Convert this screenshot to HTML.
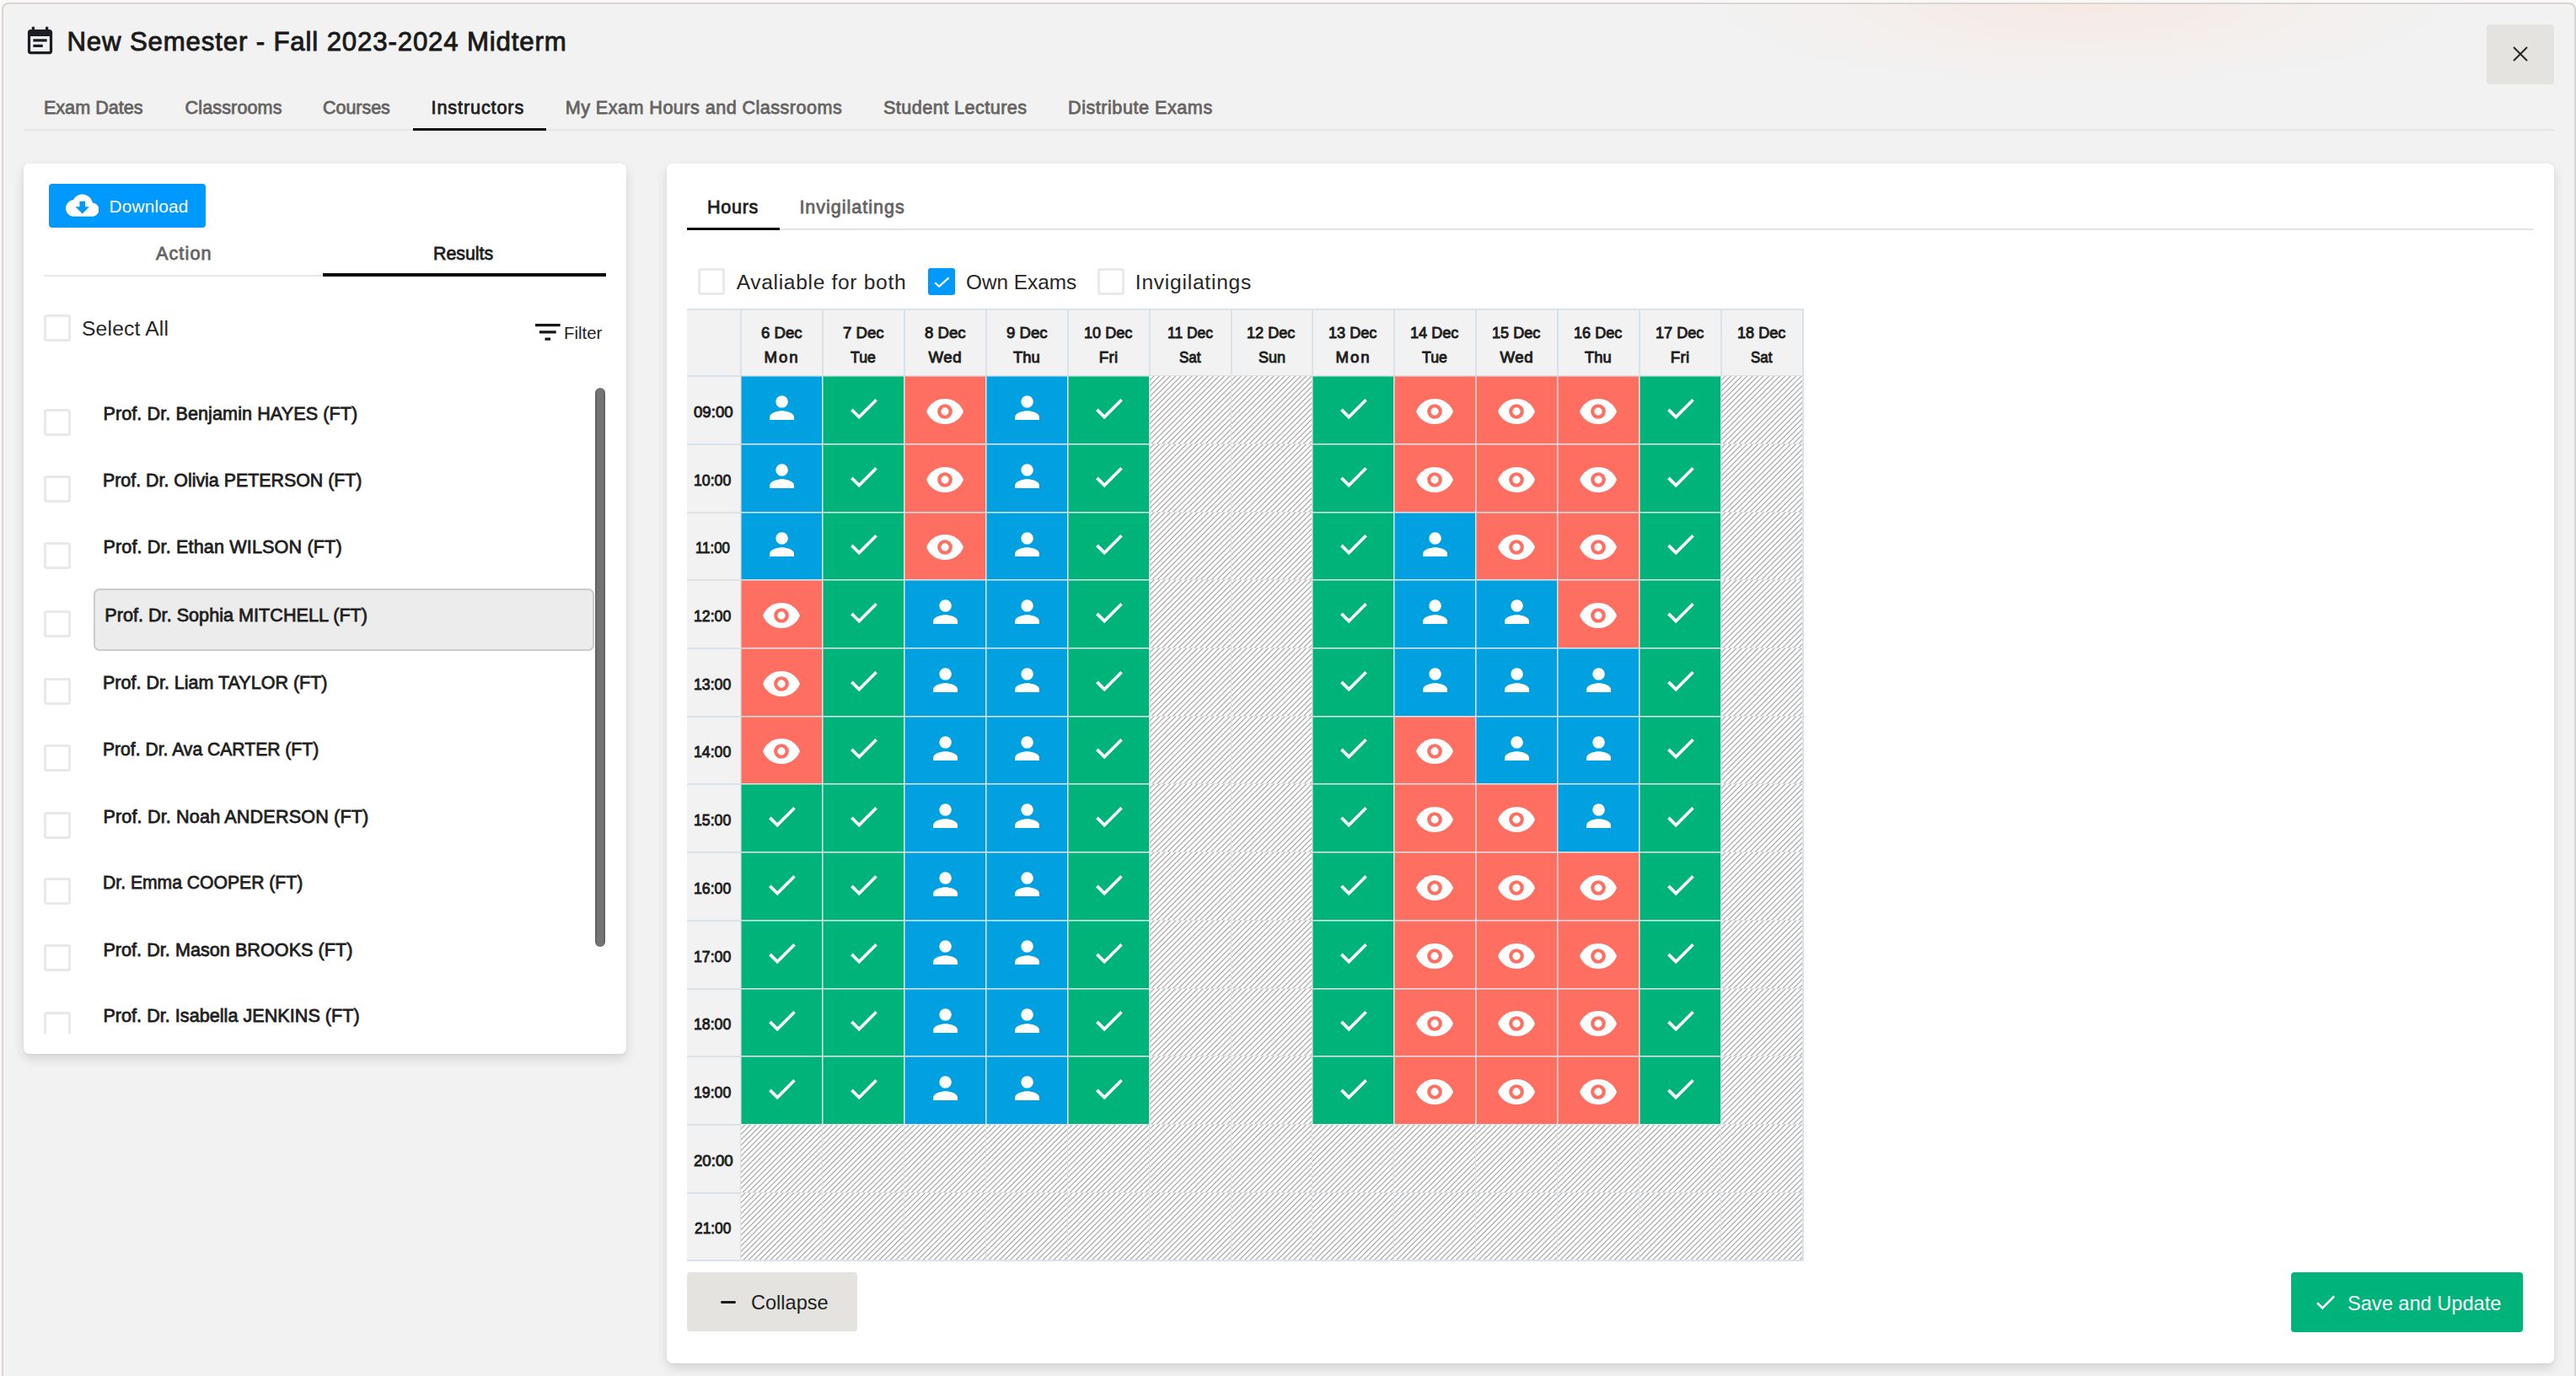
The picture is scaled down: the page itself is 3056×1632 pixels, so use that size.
<!DOCTYPE html>
<html lang="en"><head><meta charset="utf-8"><title>New Semester - Fall 2023-2024 Midterm</title>
<style>
html,body{margin:0;padding:0;overflow:hidden}
body{width:3056px;height:1632px;overflow:hidden;background:#f9f8f6;font-family:"Liberation Sans",sans-serif;position:relative}
.dlg{position:absolute;left:2px;top:3px;width:3054px;height:1700px;background:#f2f2f2;border:2px solid #d8d5d4;border-radius:8px;box-sizing:border-box}
.glow{position:absolute;left:2020px;top:5px;width:900px;height:100px;background:radial-gradient(ellipse 50% 100% at 50% 0,rgba(255,215,200,.34),rgba(255,215,200,.12) 55%,rgba(255,215,200,0) 100%)}
.t{position:absolute;white-space:nowrap;line-height:1;transform-origin:0 0}
.ic{position:absolute;display:block}
.panel{position:absolute;background:#fff;border-radius:7px;box-shadow:0 6px 14px rgba(0,0,0,.12),0 1px 3px rgba(0,0,0,.05)}
.hline{position:absolute;height:1.5px;background:#dde3e9}
.uline{position:absolute;height:3.5px;background:#0a0a0a}
.btn{position:absolute;border-radius:4px}
.closebtn{position:absolute;left:2949.5px;top:29px;width:80px;height:70.5px;background:#e5e3df;border-radius:4px}
.cb{position:absolute;width:32px;height:32px;box-sizing:border-box;border:3px solid #e9e9e9;border-radius:3px;background:#fff}
.cb.on{width:32px;height:32px;border:0;background:#0099ff;border-radius:3px}
.cb.on svg{display:block}
.listclip{position:absolute;left:0;top:0;width:760px;height:1226px;overflow:hidden}
.selbox{position:absolute;left:110.5px;top:698px;width:594px;height:74px;box-sizing:border-box;border:2px solid #cbcbcb;border-radius:7px;background:#ececec}
.sbar{position:absolute;left:705.7px;top:460px;width:12.4px;height:662.5px;border-radius:7px;background:linear-gradient(90deg,#5c5c5c,#747474 25%,#747474 75%,#5c5c5c)}
.tbl{position:absolute;background:#dbe3e9}
.c{position:absolute;overflow:hidden}
.c.h{background:#f2f2f2}
.c.p,.c.g,.c.e{box-shadow:inset 1px 1px 0 rgba(219,227,233,.55)}
.c.p{background:#00a0e1}
.c.g{background:#00b378}
.c.e{background:#ff6f61}
.c.x{background:#fff repeating-linear-gradient(135deg,#fff 0,#fff 2.45px,#b6b6b6 3.1px,#b6b6b6 3.9px,#fff 4.55px)}
.ci{position:absolute;display:block}
</style></head><body>
<div class="dlg"></div><div class="glow"></div>
<svg class="ic" style="left:27.60px;top:30.40px" width="39" height="39" viewBox="0 0 24 24"><path fill="#1b1f24" d="M17 10H7v2h10v-2zm2-7h-1V1h-2v2H8V1H6v2H5c-1.11 0-1.99.9-1.99 2L3 19c0 1.1.89 2 2 2h14c1.1 0 2-.9 2-2V5c0-1.1-.9-2-2-2zm0 16H5V8h14v11zm-5-5H7v2h7v-2z"/></svg>
<div class="closebtn"></div>
<svg class="ic" style="left:2979.5px;top:54.4px" width="20" height="20" viewBox="0 0 20 20"><path d="M2 2L18 18M18 2L2 18" stroke="#222" stroke-width="1.9" fill="none"/></svg>
<div class="hline" style="left:28px;top:153px;width:3002px;height:2px;background:#e2e7ec"></div>
<div class="uline" style="left:489.5px;top:152px;width:158px;height:3px"></div>
<div class="panel" style="left:28px;top:194px;width:715px;height:1056px"></div>
<div class="btn" style="left:58px;top:218px;width:186px;height:51.5px;background:#0099ff"></div>
<svg class="ic" style="left:77.70px;top:224.10px" width="39.4" height="39.4" viewBox="0 0 24 24"><path fill="#fff" d="M19.35 10.04C18.67 6.59 15.64 4 12 4 9.11 4 6.6 5.64 5.35 8.04 2.34 8.36 0 10.91 0 14c0 3.31 2.69 6 6 6h13c2.76 0 5-2.24 5-5 0-2.64-2.05-4.78-4.65-4.96zM17 13l-5 5-5-5h3V9h4v4h3z"/></svg>
<div class="hline" style="left:52px;top:326px;width:666px;height:2px;background:#e4e9ee"></div>
<div class="uline" style="left:383px;top:324px;width:335.5px"></div>
<div class="cb" style="left:52px;top:373px"></div>
<svg class="ic" style="left:629.60px;top:373.60px" width="39.6" height="39.6" viewBox="0 0 24 24"><path fill="#161616" d="M10 18h4v-2h-4v2zM3 6v2h18V6H3zm3 7h12v-2H6v2z"/></svg>
<div class="listclip">
<div class="selbox"></div>
<div class="cb" style="left:52px;top:485px"></div>
<div class="cb" style="left:52px;top:564px"></div>
<div class="cb" style="left:52px;top:643px"></div>
<div class="cb" style="left:52px;top:724px"></div>
<div class="cb" style="left:52px;top:804px"></div>
<div class="cb" style="left:52px;top:883px"></div>
<div class="cb" style="left:52px;top:963px"></div>
<div class="cb" style="left:52px;top:1041px"></div>
<div class="cb" style="left:52px;top:1120px"></div>
<div class="cb" style="left:52px;top:1200px"></div>
<span class="t" style="left:122.40px;top:479.92px;font-size:21.6px;letter-spacing:0.083px;color:#1f1f1f;-webkit-text-stroke:0.8px #1f1f1f">Prof. Dr. Benjamin HAYES (FT)</span>
<span class="t" style="left:122.41px;top:558.82px;font-size:21.6px;color:#1f1f1f;transform:scaleX(0.9895);-webkit-text-stroke:0.8px #1f1f1f">Prof. Dr. Olivia PETERSON (FT)</span>
<span class="t" style="left:122.40px;top:638.02px;font-size:21.6px;letter-spacing:0.139px;color:#1f1f1f;-webkit-text-stroke:0.8px #1f1f1f">Prof. Dr. Ethan WILSON (FT)</span>
<span class="t" style="left:124.30px;top:718.72px;font-size:21.6px;letter-spacing:0.018px;color:#1f1f1f;-webkit-text-stroke:0.8px #1f1f1f">Prof. Dr. Sophia MITCHELL (FT)</span>
<span class="t" style="left:122.40px;top:799.12px;font-size:21.6px;color:#1f1f1f;transform:scaleX(0.9960);-webkit-text-stroke:0.8px #1f1f1f">Prof. Dr. Liam TAYLOR (FT)</span>
<span class="t" style="left:122.41px;top:878.02px;font-size:21.6px;color:#1f1f1f;transform:scaleX(0.9780);-webkit-text-stroke:0.8px #1f1f1f">Prof. Dr. Ava CARTER (FT)</span>
<span class="t" style="left:122.40px;top:957.52px;font-size:21.6px;letter-spacing:0.153px;color:#1f1f1f;-webkit-text-stroke:0.8px #1f1f1f">Prof. Dr. Noah ANDERSON (FT)</span>
<span class="t" style="left:122.41px;top:1036.42px;font-size:21.6px;color:#1f1f1f;transform:scaleX(0.9787);-webkit-text-stroke:0.8px #1f1f1f">Dr. Emma COOPER (FT)</span>
<span class="t" style="left:122.40px;top:1115.82px;font-size:21.6px;letter-spacing:0.032px;color:#1f1f1f;-webkit-text-stroke:0.8px #1f1f1f">Prof. Dr. Mason BROOKS (FT)</span>
<span class="t" style="left:122.40px;top:1194.22px;font-size:21.6px;letter-spacing:0.024px;color:#1f1f1f;-webkit-text-stroke:0.8px #1f1f1f">Prof. Dr. Isabella JENKINS (FT)</span>
</div>
<div class="sbar"></div>
<div class="panel" style="left:791px;top:194px;width:2238.5px;height:1423px"></div>
<div class="hline" style="left:815px;top:271px;width:2190px"></div>
<div class="uline" style="left:815px;top:269.5px;width:110px"></div>
<div class="cb" style="left:828px;top:318px"></div>
<div class="cb on" style="left:1101px;top:318px"><svg width="32" height="32" viewBox="0 0 32 32"><path d="M8.2 17.3L13.1 21.8 24.6 11.4" stroke="#fff" stroke-width="2.2" fill="none"/></svg></div>
<div class="cb" style="left:1302px;top:318px"></div>
<div class="tbl" style="left:815px;top:366px;width:1325px;height:1130px">
<div class="c h" style="left:0px;top:2px;width:63px;height:77px"></div>
<div class="c h" style="left:65px;top:2px;width:95px;height:77px"></div>
<div class="c h" style="left:162px;top:2px;width:95px;height:77px"></div>
<div class="c h" style="left:259px;top:2px;width:95px;height:77px"></div>
<div class="c h" style="left:356px;top:2px;width:95px;height:77px"></div>
<div class="c h" style="left:453px;top:2px;width:95px;height:77px"></div>
<div class="c h" style="left:550px;top:2px;width:95px;height:77px"></div>
<div class="c h" style="left:647px;top:2px;width:94px;height:77px"></div>
<div class="c h" style="left:743px;top:2px;width:95px;height:77px"></div>
<div class="c h" style="left:840px;top:2px;width:95px;height:77px"></div>
<div class="c h" style="left:937px;top:2px;width:95px;height:77px"></div>
<div class="c h" style="left:1034px;top:2px;width:95px;height:77px"></div>
<div class="c h" style="left:1131px;top:2px;width:95px;height:77px"></div>
<div class="c h" style="left:1228px;top:2px;width:95px;height:77px"></div>
<div class="c h" style="left:0px;top:81px;width:63px;height:79px"></div>
<div class="c h" style="left:0px;top:162px;width:63px;height:79px"></div>
<div class="c h" style="left:0px;top:243px;width:63px;height:78px"></div>
<div class="c h" style="left:0px;top:323px;width:63px;height:79px"></div>
<div class="c h" style="left:0px;top:404px;width:63px;height:79px"></div>
<div class="c h" style="left:0px;top:485px;width:63px;height:78px"></div>
<div class="c h" style="left:0px;top:565px;width:63px;height:79px"></div>
<div class="c h" style="left:0px;top:646px;width:63px;height:79px"></div>
<div class="c h" style="left:0px;top:727px;width:63px;height:79px"></div>
<div class="c h" style="left:0px;top:808px;width:63px;height:78px"></div>
<div class="c h" style="left:0px;top:888px;width:63px;height:79px"></div>
<div class="c h" style="left:0px;top:969px;width:63px;height:79px"></div>
<div class="c h" style="left:0px;top:1050px;width:63px;height:78px"></div>
<div class="c p" style="left:64px;top:80px;width:96px;height:80px"><svg class="ci" style="left:50%;top:50%;margin-top:-23.900000000000002px;margin-left:calc(-21.6px + .5px)" width="43.2" height="43.2" viewBox="0 0 24 24"><path fill="#fff" d="M12 12c2.21 0 4-1.79 4-4s-1.79-4-4-4-4 1.79-4 4 1.79 4 4 4zm0 2c-2.67 0-8 1.34-8 4v2h16v-2c0-2.66-5.33-4-8-4z"/></svg></div>
<div class="c g" style="left:161px;top:80px;width:96px;height:80px"><svg class="ci" style="left:50%;top:50%;margin-top:-23.5px;margin-left:calc(-21.6px + .5px)" width="43.2" height="43.2" viewBox="0 0 24 24"><path fill="#fff" d="M9 16.17L4.83 12l-1.42 1.41L9 19 21 7l-1.41-1.41z"/></svg></div>
<div class="c e" style="left:258px;top:80px;width:96px;height:80px"><svg class="ci" style="left:50%;top:50%;margin-left:-24.1px;margin-top:-16.5px" width="48" height="36" viewBox="-24 -18 48 36"><path fill="#fff" d="M-22 0C-18.5 -9 -10 -15 0 -15S18.5 -9 22 0C18.5 9 10 15 0 15S-18.5 9 -22 0Z"/><circle r="6.75" fill="none" stroke="#ff6f61" stroke-width="4.2"/></svg></div>
<div class="c p" style="left:355px;top:80px;width:96px;height:80px"><svg class="ci" style="left:50%;top:50%;margin-top:-23.900000000000002px;margin-left:calc(-21.6px + .5px)" width="43.2" height="43.2" viewBox="0 0 24 24"><path fill="#fff" d="M12 12c2.21 0 4-1.79 4-4s-1.79-4-4-4-4 1.79-4 4 1.79 4 4 4zm0 2c-2.67 0-8 1.34-8 4v2h16v-2c0-2.66-5.33-4-8-4z"/></svg></div>
<div class="c g" style="left:452px;top:80px;width:96px;height:80px"><svg class="ci" style="left:50%;top:50%;margin-top:-23.5px;margin-left:calc(-21.6px + .5px)" width="43.2" height="43.2" viewBox="0 0 24 24"><path fill="#fff" d="M9 16.17L4.83 12l-1.42 1.41L9 19 21 7l-1.41-1.41z"/></svg></div>
<div class="c x" style="left:549px;top:80px;width:96px;height:80px"></div>
<div class="c x" style="left:646px;top:80px;width:95px;height:80px"></div>
<div class="c g" style="left:742px;top:80px;width:96px;height:80px"><svg class="ci" style="left:50%;top:50%;margin-top:-23.5px;margin-left:calc(-21.6px + .5px)" width="43.2" height="43.2" viewBox="0 0 24 24"><path fill="#fff" d="M9 16.17L4.83 12l-1.42 1.41L9 19 21 7l-1.41-1.41z"/></svg></div>
<div class="c e" style="left:839px;top:80px;width:96px;height:80px"><svg class="ci" style="left:50%;top:50%;margin-left:-24.1px;margin-top:-16.5px" width="48" height="36" viewBox="-24 -18 48 36"><path fill="#fff" d="M-22 0C-18.5 -9 -10 -15 0 -15S18.5 -9 22 0C18.5 9 10 15 0 15S-18.5 9 -22 0Z"/><circle r="6.75" fill="none" stroke="#ff6f61" stroke-width="4.2"/></svg></div>
<div class="c e" style="left:936px;top:80px;width:96px;height:80px"><svg class="ci" style="left:50%;top:50%;margin-left:-24.1px;margin-top:-16.5px" width="48" height="36" viewBox="-24 -18 48 36"><path fill="#fff" d="M-22 0C-18.5 -9 -10 -15 0 -15S18.5 -9 22 0C18.5 9 10 15 0 15S-18.5 9 -22 0Z"/><circle r="6.75" fill="none" stroke="#ff6f61" stroke-width="4.2"/></svg></div>
<div class="c e" style="left:1033px;top:80px;width:96px;height:80px"><svg class="ci" style="left:50%;top:50%;margin-left:-24.1px;margin-top:-16.5px" width="48" height="36" viewBox="-24 -18 48 36"><path fill="#fff" d="M-22 0C-18.5 -9 -10 -15 0 -15S18.5 -9 22 0C18.5 9 10 15 0 15S-18.5 9 -22 0Z"/><circle r="6.75" fill="none" stroke="#ff6f61" stroke-width="4.2"/></svg></div>
<div class="c g" style="left:1130px;top:80px;width:96px;height:80px"><svg class="ci" style="left:50%;top:50%;margin-top:-23.5px;margin-left:calc(-21.6px + .5px)" width="43.2" height="43.2" viewBox="0 0 24 24"><path fill="#fff" d="M9 16.17L4.83 12l-1.42 1.41L9 19 21 7l-1.41-1.41z"/></svg></div>
<div class="c x" style="left:1227px;top:80px;width:96px;height:80px"></div>
<div class="c p" style="left:64px;top:161px;width:96px;height:80px"><svg class="ci" style="left:50%;top:50%;margin-top:-23.900000000000002px;margin-left:calc(-21.6px + .5px)" width="43.2" height="43.2" viewBox="0 0 24 24"><path fill="#fff" d="M12 12c2.21 0 4-1.79 4-4s-1.79-4-4-4-4 1.79-4 4 1.79 4 4 4zm0 2c-2.67 0-8 1.34-8 4v2h16v-2c0-2.66-5.33-4-8-4z"/></svg></div>
<div class="c g" style="left:161px;top:161px;width:96px;height:80px"><svg class="ci" style="left:50%;top:50%;margin-top:-23.5px;margin-left:calc(-21.6px + .5px)" width="43.2" height="43.2" viewBox="0 0 24 24"><path fill="#fff" d="M9 16.17L4.83 12l-1.42 1.41L9 19 21 7l-1.41-1.41z"/></svg></div>
<div class="c e" style="left:258px;top:161px;width:96px;height:80px"><svg class="ci" style="left:50%;top:50%;margin-left:-24.1px;margin-top:-16.5px" width="48" height="36" viewBox="-24 -18 48 36"><path fill="#fff" d="M-22 0C-18.5 -9 -10 -15 0 -15S18.5 -9 22 0C18.5 9 10 15 0 15S-18.5 9 -22 0Z"/><circle r="6.75" fill="none" stroke="#ff6f61" stroke-width="4.2"/></svg></div>
<div class="c p" style="left:355px;top:161px;width:96px;height:80px"><svg class="ci" style="left:50%;top:50%;margin-top:-23.900000000000002px;margin-left:calc(-21.6px + .5px)" width="43.2" height="43.2" viewBox="0 0 24 24"><path fill="#fff" d="M12 12c2.21 0 4-1.79 4-4s-1.79-4-4-4-4 1.79-4 4 1.79 4 4 4zm0 2c-2.67 0-8 1.34-8 4v2h16v-2c0-2.66-5.33-4-8-4z"/></svg></div>
<div class="c g" style="left:452px;top:161px;width:96px;height:80px"><svg class="ci" style="left:50%;top:50%;margin-top:-23.5px;margin-left:calc(-21.6px + .5px)" width="43.2" height="43.2" viewBox="0 0 24 24"><path fill="#fff" d="M9 16.17L4.83 12l-1.42 1.41L9 19 21 7l-1.41-1.41z"/></svg></div>
<div class="c x" style="left:549px;top:161px;width:96px;height:80px"></div>
<div class="c x" style="left:646px;top:161px;width:95px;height:80px"></div>
<div class="c g" style="left:742px;top:161px;width:96px;height:80px"><svg class="ci" style="left:50%;top:50%;margin-top:-23.5px;margin-left:calc(-21.6px + .5px)" width="43.2" height="43.2" viewBox="0 0 24 24"><path fill="#fff" d="M9 16.17L4.83 12l-1.42 1.41L9 19 21 7l-1.41-1.41z"/></svg></div>
<div class="c e" style="left:839px;top:161px;width:96px;height:80px"><svg class="ci" style="left:50%;top:50%;margin-left:-24.1px;margin-top:-16.5px" width="48" height="36" viewBox="-24 -18 48 36"><path fill="#fff" d="M-22 0C-18.5 -9 -10 -15 0 -15S18.5 -9 22 0C18.5 9 10 15 0 15S-18.5 9 -22 0Z"/><circle r="6.75" fill="none" stroke="#ff6f61" stroke-width="4.2"/></svg></div>
<div class="c e" style="left:936px;top:161px;width:96px;height:80px"><svg class="ci" style="left:50%;top:50%;margin-left:-24.1px;margin-top:-16.5px" width="48" height="36" viewBox="-24 -18 48 36"><path fill="#fff" d="M-22 0C-18.5 -9 -10 -15 0 -15S18.5 -9 22 0C18.5 9 10 15 0 15S-18.5 9 -22 0Z"/><circle r="6.75" fill="none" stroke="#ff6f61" stroke-width="4.2"/></svg></div>
<div class="c e" style="left:1033px;top:161px;width:96px;height:80px"><svg class="ci" style="left:50%;top:50%;margin-left:-24.1px;margin-top:-16.5px" width="48" height="36" viewBox="-24 -18 48 36"><path fill="#fff" d="M-22 0C-18.5 -9 -10 -15 0 -15S18.5 -9 22 0C18.5 9 10 15 0 15S-18.5 9 -22 0Z"/><circle r="6.75" fill="none" stroke="#ff6f61" stroke-width="4.2"/></svg></div>
<div class="c g" style="left:1130px;top:161px;width:96px;height:80px"><svg class="ci" style="left:50%;top:50%;margin-top:-23.5px;margin-left:calc(-21.6px + .5px)" width="43.2" height="43.2" viewBox="0 0 24 24"><path fill="#fff" d="M9 16.17L4.83 12l-1.42 1.41L9 19 21 7l-1.41-1.41z"/></svg></div>
<div class="c x" style="left:1227px;top:161px;width:96px;height:80px"></div>
<div class="c p" style="left:64px;top:242px;width:96px;height:79px"><svg class="ci" style="left:50%;top:50%;margin-top:-23.900000000000002px;margin-left:calc(-21.6px + .5px)" width="43.2" height="43.2" viewBox="0 0 24 24"><path fill="#fff" d="M12 12c2.21 0 4-1.79 4-4s-1.79-4-4-4-4 1.79-4 4 1.79 4 4 4zm0 2c-2.67 0-8 1.34-8 4v2h16v-2c0-2.66-5.33-4-8-4z"/></svg></div>
<div class="c g" style="left:161px;top:242px;width:96px;height:79px"><svg class="ci" style="left:50%;top:50%;margin-top:-23.5px;margin-left:calc(-21.6px + .5px)" width="43.2" height="43.2" viewBox="0 0 24 24"><path fill="#fff" d="M9 16.17L4.83 12l-1.42 1.41L9 19 21 7l-1.41-1.41z"/></svg></div>
<div class="c e" style="left:258px;top:242px;width:96px;height:79px"><svg class="ci" style="left:50%;top:50%;margin-left:-24.1px;margin-top:-16.5px" width="48" height="36" viewBox="-24 -18 48 36"><path fill="#fff" d="M-22 0C-18.5 -9 -10 -15 0 -15S18.5 -9 22 0C18.5 9 10 15 0 15S-18.5 9 -22 0Z"/><circle r="6.75" fill="none" stroke="#ff6f61" stroke-width="4.2"/></svg></div>
<div class="c p" style="left:355px;top:242px;width:96px;height:79px"><svg class="ci" style="left:50%;top:50%;margin-top:-23.900000000000002px;margin-left:calc(-21.6px + .5px)" width="43.2" height="43.2" viewBox="0 0 24 24"><path fill="#fff" d="M12 12c2.21 0 4-1.79 4-4s-1.79-4-4-4-4 1.79-4 4 1.79 4 4 4zm0 2c-2.67 0-8 1.34-8 4v2h16v-2c0-2.66-5.33-4-8-4z"/></svg></div>
<div class="c g" style="left:452px;top:242px;width:96px;height:79px"><svg class="ci" style="left:50%;top:50%;margin-top:-23.5px;margin-left:calc(-21.6px + .5px)" width="43.2" height="43.2" viewBox="0 0 24 24"><path fill="#fff" d="M9 16.17L4.83 12l-1.42 1.41L9 19 21 7l-1.41-1.41z"/></svg></div>
<div class="c x" style="left:549px;top:242px;width:96px;height:79px"></div>
<div class="c x" style="left:646px;top:242px;width:95px;height:79px"></div>
<div class="c g" style="left:742px;top:242px;width:96px;height:79px"><svg class="ci" style="left:50%;top:50%;margin-top:-23.5px;margin-left:calc(-21.6px + .5px)" width="43.2" height="43.2" viewBox="0 0 24 24"><path fill="#fff" d="M9 16.17L4.83 12l-1.42 1.41L9 19 21 7l-1.41-1.41z"/></svg></div>
<div class="c p" style="left:839px;top:242px;width:96px;height:79px"><svg class="ci" style="left:50%;top:50%;margin-top:-23.900000000000002px;margin-left:calc(-21.6px + .5px)" width="43.2" height="43.2" viewBox="0 0 24 24"><path fill="#fff" d="M12 12c2.21 0 4-1.79 4-4s-1.79-4-4-4-4 1.79-4 4 1.79 4 4 4zm0 2c-2.67 0-8 1.34-8 4v2h16v-2c0-2.66-5.33-4-8-4z"/></svg></div>
<div class="c e" style="left:936px;top:242px;width:96px;height:79px"><svg class="ci" style="left:50%;top:50%;margin-left:-24.1px;margin-top:-16.5px" width="48" height="36" viewBox="-24 -18 48 36"><path fill="#fff" d="M-22 0C-18.5 -9 -10 -15 0 -15S18.5 -9 22 0C18.5 9 10 15 0 15S-18.5 9 -22 0Z"/><circle r="6.75" fill="none" stroke="#ff6f61" stroke-width="4.2"/></svg></div>
<div class="c e" style="left:1033px;top:242px;width:96px;height:79px"><svg class="ci" style="left:50%;top:50%;margin-left:-24.1px;margin-top:-16.5px" width="48" height="36" viewBox="-24 -18 48 36"><path fill="#fff" d="M-22 0C-18.5 -9 -10 -15 0 -15S18.5 -9 22 0C18.5 9 10 15 0 15S-18.5 9 -22 0Z"/><circle r="6.75" fill="none" stroke="#ff6f61" stroke-width="4.2"/></svg></div>
<div class="c g" style="left:1130px;top:242px;width:96px;height:79px"><svg class="ci" style="left:50%;top:50%;margin-top:-23.5px;margin-left:calc(-21.6px + .5px)" width="43.2" height="43.2" viewBox="0 0 24 24"><path fill="#fff" d="M9 16.17L4.83 12l-1.42 1.41L9 19 21 7l-1.41-1.41z"/></svg></div>
<div class="c x" style="left:1227px;top:242px;width:96px;height:79px"></div>
<div class="c e" style="left:64px;top:322px;width:96px;height:80px"><svg class="ci" style="left:50%;top:50%;margin-left:-24.1px;margin-top:-16.5px" width="48" height="36" viewBox="-24 -18 48 36"><path fill="#fff" d="M-22 0C-18.5 -9 -10 -15 0 -15S18.5 -9 22 0C18.5 9 10 15 0 15S-18.5 9 -22 0Z"/><circle r="6.75" fill="none" stroke="#ff6f61" stroke-width="4.2"/></svg></div>
<div class="c g" style="left:161px;top:322px;width:96px;height:80px"><svg class="ci" style="left:50%;top:50%;margin-top:-23.5px;margin-left:calc(-21.6px + .5px)" width="43.2" height="43.2" viewBox="0 0 24 24"><path fill="#fff" d="M9 16.17L4.83 12l-1.42 1.41L9 19 21 7l-1.41-1.41z"/></svg></div>
<div class="c p" style="left:258px;top:322px;width:96px;height:80px"><svg class="ci" style="left:50%;top:50%;margin-top:-23.900000000000002px;margin-left:calc(-21.6px + .5px)" width="43.2" height="43.2" viewBox="0 0 24 24"><path fill="#fff" d="M12 12c2.21 0 4-1.79 4-4s-1.79-4-4-4-4 1.79-4 4 1.79 4 4 4zm0 2c-2.67 0-8 1.34-8 4v2h16v-2c0-2.66-5.33-4-8-4z"/></svg></div>
<div class="c p" style="left:355px;top:322px;width:96px;height:80px"><svg class="ci" style="left:50%;top:50%;margin-top:-23.900000000000002px;margin-left:calc(-21.6px + .5px)" width="43.2" height="43.2" viewBox="0 0 24 24"><path fill="#fff" d="M12 12c2.21 0 4-1.79 4-4s-1.79-4-4-4-4 1.79-4 4 1.79 4 4 4zm0 2c-2.67 0-8 1.34-8 4v2h16v-2c0-2.66-5.33-4-8-4z"/></svg></div>
<div class="c g" style="left:452px;top:322px;width:96px;height:80px"><svg class="ci" style="left:50%;top:50%;margin-top:-23.5px;margin-left:calc(-21.6px + .5px)" width="43.2" height="43.2" viewBox="0 0 24 24"><path fill="#fff" d="M9 16.17L4.83 12l-1.42 1.41L9 19 21 7l-1.41-1.41z"/></svg></div>
<div class="c x" style="left:549px;top:322px;width:96px;height:80px"></div>
<div class="c x" style="left:646px;top:322px;width:95px;height:80px"></div>
<div class="c g" style="left:742px;top:322px;width:96px;height:80px"><svg class="ci" style="left:50%;top:50%;margin-top:-23.5px;margin-left:calc(-21.6px + .5px)" width="43.2" height="43.2" viewBox="0 0 24 24"><path fill="#fff" d="M9 16.17L4.83 12l-1.42 1.41L9 19 21 7l-1.41-1.41z"/></svg></div>
<div class="c p" style="left:839px;top:322px;width:96px;height:80px"><svg class="ci" style="left:50%;top:50%;margin-top:-23.900000000000002px;margin-left:calc(-21.6px + .5px)" width="43.2" height="43.2" viewBox="0 0 24 24"><path fill="#fff" d="M12 12c2.21 0 4-1.79 4-4s-1.79-4-4-4-4 1.79-4 4 1.79 4 4 4zm0 2c-2.67 0-8 1.34-8 4v2h16v-2c0-2.66-5.33-4-8-4z"/></svg></div>
<div class="c p" style="left:936px;top:322px;width:96px;height:80px"><svg class="ci" style="left:50%;top:50%;margin-top:-23.900000000000002px;margin-left:calc(-21.6px + .5px)" width="43.2" height="43.2" viewBox="0 0 24 24"><path fill="#fff" d="M12 12c2.21 0 4-1.79 4-4s-1.79-4-4-4-4 1.79-4 4 1.79 4 4 4zm0 2c-2.67 0-8 1.34-8 4v2h16v-2c0-2.66-5.33-4-8-4z"/></svg></div>
<div class="c e" style="left:1033px;top:322px;width:96px;height:80px"><svg class="ci" style="left:50%;top:50%;margin-left:-24.1px;margin-top:-16.5px" width="48" height="36" viewBox="-24 -18 48 36"><path fill="#fff" d="M-22 0C-18.5 -9 -10 -15 0 -15S18.5 -9 22 0C18.5 9 10 15 0 15S-18.5 9 -22 0Z"/><circle r="6.75" fill="none" stroke="#ff6f61" stroke-width="4.2"/></svg></div>
<div class="c g" style="left:1130px;top:322px;width:96px;height:80px"><svg class="ci" style="left:50%;top:50%;margin-top:-23.5px;margin-left:calc(-21.6px + .5px)" width="43.2" height="43.2" viewBox="0 0 24 24"><path fill="#fff" d="M9 16.17L4.83 12l-1.42 1.41L9 19 21 7l-1.41-1.41z"/></svg></div>
<div class="c x" style="left:1227px;top:322px;width:96px;height:80px"></div>
<div class="c e" style="left:64px;top:403px;width:96px;height:80px"><svg class="ci" style="left:50%;top:50%;margin-left:-24.1px;margin-top:-16.5px" width="48" height="36" viewBox="-24 -18 48 36"><path fill="#fff" d="M-22 0C-18.5 -9 -10 -15 0 -15S18.5 -9 22 0C18.5 9 10 15 0 15S-18.5 9 -22 0Z"/><circle r="6.75" fill="none" stroke="#ff6f61" stroke-width="4.2"/></svg></div>
<div class="c g" style="left:161px;top:403px;width:96px;height:80px"><svg class="ci" style="left:50%;top:50%;margin-top:-23.5px;margin-left:calc(-21.6px + .5px)" width="43.2" height="43.2" viewBox="0 0 24 24"><path fill="#fff" d="M9 16.17L4.83 12l-1.42 1.41L9 19 21 7l-1.41-1.41z"/></svg></div>
<div class="c p" style="left:258px;top:403px;width:96px;height:80px"><svg class="ci" style="left:50%;top:50%;margin-top:-23.900000000000002px;margin-left:calc(-21.6px + .5px)" width="43.2" height="43.2" viewBox="0 0 24 24"><path fill="#fff" d="M12 12c2.21 0 4-1.79 4-4s-1.79-4-4-4-4 1.79-4 4 1.79 4 4 4zm0 2c-2.67 0-8 1.34-8 4v2h16v-2c0-2.66-5.33-4-8-4z"/></svg></div>
<div class="c p" style="left:355px;top:403px;width:96px;height:80px"><svg class="ci" style="left:50%;top:50%;margin-top:-23.900000000000002px;margin-left:calc(-21.6px + .5px)" width="43.2" height="43.2" viewBox="0 0 24 24"><path fill="#fff" d="M12 12c2.21 0 4-1.79 4-4s-1.79-4-4-4-4 1.79-4 4 1.79 4 4 4zm0 2c-2.67 0-8 1.34-8 4v2h16v-2c0-2.66-5.33-4-8-4z"/></svg></div>
<div class="c g" style="left:452px;top:403px;width:96px;height:80px"><svg class="ci" style="left:50%;top:50%;margin-top:-23.5px;margin-left:calc(-21.6px + .5px)" width="43.2" height="43.2" viewBox="0 0 24 24"><path fill="#fff" d="M9 16.17L4.83 12l-1.42 1.41L9 19 21 7l-1.41-1.41z"/></svg></div>
<div class="c x" style="left:549px;top:403px;width:96px;height:80px"></div>
<div class="c x" style="left:646px;top:403px;width:95px;height:80px"></div>
<div class="c g" style="left:742px;top:403px;width:96px;height:80px"><svg class="ci" style="left:50%;top:50%;margin-top:-23.5px;margin-left:calc(-21.6px + .5px)" width="43.2" height="43.2" viewBox="0 0 24 24"><path fill="#fff" d="M9 16.17L4.83 12l-1.42 1.41L9 19 21 7l-1.41-1.41z"/></svg></div>
<div class="c p" style="left:839px;top:403px;width:96px;height:80px"><svg class="ci" style="left:50%;top:50%;margin-top:-23.900000000000002px;margin-left:calc(-21.6px + .5px)" width="43.2" height="43.2" viewBox="0 0 24 24"><path fill="#fff" d="M12 12c2.21 0 4-1.79 4-4s-1.79-4-4-4-4 1.79-4 4 1.79 4 4 4zm0 2c-2.67 0-8 1.34-8 4v2h16v-2c0-2.66-5.33-4-8-4z"/></svg></div>
<div class="c p" style="left:936px;top:403px;width:96px;height:80px"><svg class="ci" style="left:50%;top:50%;margin-top:-23.900000000000002px;margin-left:calc(-21.6px + .5px)" width="43.2" height="43.2" viewBox="0 0 24 24"><path fill="#fff" d="M12 12c2.21 0 4-1.79 4-4s-1.79-4-4-4-4 1.79-4 4 1.79 4 4 4zm0 2c-2.67 0-8 1.34-8 4v2h16v-2c0-2.66-5.33-4-8-4z"/></svg></div>
<div class="c p" style="left:1033px;top:403px;width:96px;height:80px"><svg class="ci" style="left:50%;top:50%;margin-top:-23.900000000000002px;margin-left:calc(-21.6px + .5px)" width="43.2" height="43.2" viewBox="0 0 24 24"><path fill="#fff" d="M12 12c2.21 0 4-1.79 4-4s-1.79-4-4-4-4 1.79-4 4 1.79 4 4 4zm0 2c-2.67 0-8 1.34-8 4v2h16v-2c0-2.66-5.33-4-8-4z"/></svg></div>
<div class="c g" style="left:1130px;top:403px;width:96px;height:80px"><svg class="ci" style="left:50%;top:50%;margin-top:-23.5px;margin-left:calc(-21.6px + .5px)" width="43.2" height="43.2" viewBox="0 0 24 24"><path fill="#fff" d="M9 16.17L4.83 12l-1.42 1.41L9 19 21 7l-1.41-1.41z"/></svg></div>
<div class="c x" style="left:1227px;top:403px;width:96px;height:80px"></div>
<div class="c e" style="left:64px;top:484px;width:96px;height:79px"><svg class="ci" style="left:50%;top:50%;margin-left:-24.1px;margin-top:-16.5px" width="48" height="36" viewBox="-24 -18 48 36"><path fill="#fff" d="M-22 0C-18.5 -9 -10 -15 0 -15S18.5 -9 22 0C18.5 9 10 15 0 15S-18.5 9 -22 0Z"/><circle r="6.75" fill="none" stroke="#ff6f61" stroke-width="4.2"/></svg></div>
<div class="c g" style="left:161px;top:484px;width:96px;height:79px"><svg class="ci" style="left:50%;top:50%;margin-top:-23.5px;margin-left:calc(-21.6px + .5px)" width="43.2" height="43.2" viewBox="0 0 24 24"><path fill="#fff" d="M9 16.17L4.83 12l-1.42 1.41L9 19 21 7l-1.41-1.41z"/></svg></div>
<div class="c p" style="left:258px;top:484px;width:96px;height:79px"><svg class="ci" style="left:50%;top:50%;margin-top:-23.900000000000002px;margin-left:calc(-21.6px + .5px)" width="43.2" height="43.2" viewBox="0 0 24 24"><path fill="#fff" d="M12 12c2.21 0 4-1.79 4-4s-1.79-4-4-4-4 1.79-4 4 1.79 4 4 4zm0 2c-2.67 0-8 1.34-8 4v2h16v-2c0-2.66-5.33-4-8-4z"/></svg></div>
<div class="c p" style="left:355px;top:484px;width:96px;height:79px"><svg class="ci" style="left:50%;top:50%;margin-top:-23.900000000000002px;margin-left:calc(-21.6px + .5px)" width="43.2" height="43.2" viewBox="0 0 24 24"><path fill="#fff" d="M12 12c2.21 0 4-1.79 4-4s-1.79-4-4-4-4 1.79-4 4 1.79 4 4 4zm0 2c-2.67 0-8 1.34-8 4v2h16v-2c0-2.66-5.33-4-8-4z"/></svg></div>
<div class="c g" style="left:452px;top:484px;width:96px;height:79px"><svg class="ci" style="left:50%;top:50%;margin-top:-23.5px;margin-left:calc(-21.6px + .5px)" width="43.2" height="43.2" viewBox="0 0 24 24"><path fill="#fff" d="M9 16.17L4.83 12l-1.42 1.41L9 19 21 7l-1.41-1.41z"/></svg></div>
<div class="c x" style="left:549px;top:484px;width:96px;height:79px"></div>
<div class="c x" style="left:646px;top:484px;width:95px;height:79px"></div>
<div class="c g" style="left:742px;top:484px;width:96px;height:79px"><svg class="ci" style="left:50%;top:50%;margin-top:-23.5px;margin-left:calc(-21.6px + .5px)" width="43.2" height="43.2" viewBox="0 0 24 24"><path fill="#fff" d="M9 16.17L4.83 12l-1.42 1.41L9 19 21 7l-1.41-1.41z"/></svg></div>
<div class="c e" style="left:839px;top:484px;width:96px;height:79px"><svg class="ci" style="left:50%;top:50%;margin-left:-24.1px;margin-top:-16.5px" width="48" height="36" viewBox="-24 -18 48 36"><path fill="#fff" d="M-22 0C-18.5 -9 -10 -15 0 -15S18.5 -9 22 0C18.5 9 10 15 0 15S-18.5 9 -22 0Z"/><circle r="6.75" fill="none" stroke="#ff6f61" stroke-width="4.2"/></svg></div>
<div class="c p" style="left:936px;top:484px;width:96px;height:79px"><svg class="ci" style="left:50%;top:50%;margin-top:-23.900000000000002px;margin-left:calc(-21.6px + .5px)" width="43.2" height="43.2" viewBox="0 0 24 24"><path fill="#fff" d="M12 12c2.21 0 4-1.79 4-4s-1.79-4-4-4-4 1.79-4 4 1.79 4 4 4zm0 2c-2.67 0-8 1.34-8 4v2h16v-2c0-2.66-5.33-4-8-4z"/></svg></div>
<div class="c p" style="left:1033px;top:484px;width:96px;height:79px"><svg class="ci" style="left:50%;top:50%;margin-top:-23.900000000000002px;margin-left:calc(-21.6px + .5px)" width="43.2" height="43.2" viewBox="0 0 24 24"><path fill="#fff" d="M12 12c2.21 0 4-1.79 4-4s-1.79-4-4-4-4 1.79-4 4 1.79 4 4 4zm0 2c-2.67 0-8 1.34-8 4v2h16v-2c0-2.66-5.33-4-8-4z"/></svg></div>
<div class="c g" style="left:1130px;top:484px;width:96px;height:79px"><svg class="ci" style="left:50%;top:50%;margin-top:-23.5px;margin-left:calc(-21.6px + .5px)" width="43.2" height="43.2" viewBox="0 0 24 24"><path fill="#fff" d="M9 16.17L4.83 12l-1.42 1.41L9 19 21 7l-1.41-1.41z"/></svg></div>
<div class="c x" style="left:1227px;top:484px;width:96px;height:79px"></div>
<div class="c g" style="left:64px;top:564px;width:96px;height:80px"><svg class="ci" style="left:50%;top:50%;margin-top:-23.5px;margin-left:calc(-21.6px + .5px)" width="43.2" height="43.2" viewBox="0 0 24 24"><path fill="#fff" d="M9 16.17L4.83 12l-1.42 1.41L9 19 21 7l-1.41-1.41z"/></svg></div>
<div class="c g" style="left:161px;top:564px;width:96px;height:80px"><svg class="ci" style="left:50%;top:50%;margin-top:-23.5px;margin-left:calc(-21.6px + .5px)" width="43.2" height="43.2" viewBox="0 0 24 24"><path fill="#fff" d="M9 16.17L4.83 12l-1.42 1.41L9 19 21 7l-1.41-1.41z"/></svg></div>
<div class="c p" style="left:258px;top:564px;width:96px;height:80px"><svg class="ci" style="left:50%;top:50%;margin-top:-23.900000000000002px;margin-left:calc(-21.6px + .5px)" width="43.2" height="43.2" viewBox="0 0 24 24"><path fill="#fff" d="M12 12c2.21 0 4-1.79 4-4s-1.79-4-4-4-4 1.79-4 4 1.79 4 4 4zm0 2c-2.67 0-8 1.34-8 4v2h16v-2c0-2.66-5.33-4-8-4z"/></svg></div>
<div class="c p" style="left:355px;top:564px;width:96px;height:80px"><svg class="ci" style="left:50%;top:50%;margin-top:-23.900000000000002px;margin-left:calc(-21.6px + .5px)" width="43.2" height="43.2" viewBox="0 0 24 24"><path fill="#fff" d="M12 12c2.21 0 4-1.79 4-4s-1.79-4-4-4-4 1.79-4 4 1.79 4 4 4zm0 2c-2.67 0-8 1.34-8 4v2h16v-2c0-2.66-5.33-4-8-4z"/></svg></div>
<div class="c g" style="left:452px;top:564px;width:96px;height:80px"><svg class="ci" style="left:50%;top:50%;margin-top:-23.5px;margin-left:calc(-21.6px + .5px)" width="43.2" height="43.2" viewBox="0 0 24 24"><path fill="#fff" d="M9 16.17L4.83 12l-1.42 1.41L9 19 21 7l-1.41-1.41z"/></svg></div>
<div class="c x" style="left:549px;top:564px;width:96px;height:80px"></div>
<div class="c x" style="left:646px;top:564px;width:95px;height:80px"></div>
<div class="c g" style="left:742px;top:564px;width:96px;height:80px"><svg class="ci" style="left:50%;top:50%;margin-top:-23.5px;margin-left:calc(-21.6px + .5px)" width="43.2" height="43.2" viewBox="0 0 24 24"><path fill="#fff" d="M9 16.17L4.83 12l-1.42 1.41L9 19 21 7l-1.41-1.41z"/></svg></div>
<div class="c e" style="left:839px;top:564px;width:96px;height:80px"><svg class="ci" style="left:50%;top:50%;margin-left:-24.1px;margin-top:-16.5px" width="48" height="36" viewBox="-24 -18 48 36"><path fill="#fff" d="M-22 0C-18.5 -9 -10 -15 0 -15S18.5 -9 22 0C18.5 9 10 15 0 15S-18.5 9 -22 0Z"/><circle r="6.75" fill="none" stroke="#ff6f61" stroke-width="4.2"/></svg></div>
<div class="c e" style="left:936px;top:564px;width:96px;height:80px"><svg class="ci" style="left:50%;top:50%;margin-left:-24.1px;margin-top:-16.5px" width="48" height="36" viewBox="-24 -18 48 36"><path fill="#fff" d="M-22 0C-18.5 -9 -10 -15 0 -15S18.5 -9 22 0C18.5 9 10 15 0 15S-18.5 9 -22 0Z"/><circle r="6.75" fill="none" stroke="#ff6f61" stroke-width="4.2"/></svg></div>
<div class="c p" style="left:1033px;top:564px;width:96px;height:80px"><svg class="ci" style="left:50%;top:50%;margin-top:-23.900000000000002px;margin-left:calc(-21.6px + .5px)" width="43.2" height="43.2" viewBox="0 0 24 24"><path fill="#fff" d="M12 12c2.21 0 4-1.79 4-4s-1.79-4-4-4-4 1.79-4 4 1.79 4 4 4zm0 2c-2.67 0-8 1.34-8 4v2h16v-2c0-2.66-5.33-4-8-4z"/></svg></div>
<div class="c g" style="left:1130px;top:564px;width:96px;height:80px"><svg class="ci" style="left:50%;top:50%;margin-top:-23.5px;margin-left:calc(-21.6px + .5px)" width="43.2" height="43.2" viewBox="0 0 24 24"><path fill="#fff" d="M9 16.17L4.83 12l-1.42 1.41L9 19 21 7l-1.41-1.41z"/></svg></div>
<div class="c x" style="left:1227px;top:564px;width:96px;height:80px"></div>
<div class="c g" style="left:64px;top:645px;width:96px;height:80px"><svg class="ci" style="left:50%;top:50%;margin-top:-23.5px;margin-left:calc(-21.6px + .5px)" width="43.2" height="43.2" viewBox="0 0 24 24"><path fill="#fff" d="M9 16.17L4.83 12l-1.42 1.41L9 19 21 7l-1.41-1.41z"/></svg></div>
<div class="c g" style="left:161px;top:645px;width:96px;height:80px"><svg class="ci" style="left:50%;top:50%;margin-top:-23.5px;margin-left:calc(-21.6px + .5px)" width="43.2" height="43.2" viewBox="0 0 24 24"><path fill="#fff" d="M9 16.17L4.83 12l-1.42 1.41L9 19 21 7l-1.41-1.41z"/></svg></div>
<div class="c p" style="left:258px;top:645px;width:96px;height:80px"><svg class="ci" style="left:50%;top:50%;margin-top:-23.900000000000002px;margin-left:calc(-21.6px + .5px)" width="43.2" height="43.2" viewBox="0 0 24 24"><path fill="#fff" d="M12 12c2.21 0 4-1.79 4-4s-1.79-4-4-4-4 1.79-4 4 1.79 4 4 4zm0 2c-2.67 0-8 1.34-8 4v2h16v-2c0-2.66-5.33-4-8-4z"/></svg></div>
<div class="c p" style="left:355px;top:645px;width:96px;height:80px"><svg class="ci" style="left:50%;top:50%;margin-top:-23.900000000000002px;margin-left:calc(-21.6px + .5px)" width="43.2" height="43.2" viewBox="0 0 24 24"><path fill="#fff" d="M12 12c2.21 0 4-1.79 4-4s-1.79-4-4-4-4 1.79-4 4 1.79 4 4 4zm0 2c-2.67 0-8 1.34-8 4v2h16v-2c0-2.66-5.33-4-8-4z"/></svg></div>
<div class="c g" style="left:452px;top:645px;width:96px;height:80px"><svg class="ci" style="left:50%;top:50%;margin-top:-23.5px;margin-left:calc(-21.6px + .5px)" width="43.2" height="43.2" viewBox="0 0 24 24"><path fill="#fff" d="M9 16.17L4.83 12l-1.42 1.41L9 19 21 7l-1.41-1.41z"/></svg></div>
<div class="c x" style="left:549px;top:645px;width:96px;height:80px"></div>
<div class="c x" style="left:646px;top:645px;width:95px;height:80px"></div>
<div class="c g" style="left:742px;top:645px;width:96px;height:80px"><svg class="ci" style="left:50%;top:50%;margin-top:-23.5px;margin-left:calc(-21.6px + .5px)" width="43.2" height="43.2" viewBox="0 0 24 24"><path fill="#fff" d="M9 16.17L4.83 12l-1.42 1.41L9 19 21 7l-1.41-1.41z"/></svg></div>
<div class="c e" style="left:839px;top:645px;width:96px;height:80px"><svg class="ci" style="left:50%;top:50%;margin-left:-24.1px;margin-top:-16.5px" width="48" height="36" viewBox="-24 -18 48 36"><path fill="#fff" d="M-22 0C-18.5 -9 -10 -15 0 -15S18.5 -9 22 0C18.5 9 10 15 0 15S-18.5 9 -22 0Z"/><circle r="6.75" fill="none" stroke="#ff6f61" stroke-width="4.2"/></svg></div>
<div class="c e" style="left:936px;top:645px;width:96px;height:80px"><svg class="ci" style="left:50%;top:50%;margin-left:-24.1px;margin-top:-16.5px" width="48" height="36" viewBox="-24 -18 48 36"><path fill="#fff" d="M-22 0C-18.5 -9 -10 -15 0 -15S18.5 -9 22 0C18.5 9 10 15 0 15S-18.5 9 -22 0Z"/><circle r="6.75" fill="none" stroke="#ff6f61" stroke-width="4.2"/></svg></div>
<div class="c e" style="left:1033px;top:645px;width:96px;height:80px"><svg class="ci" style="left:50%;top:50%;margin-left:-24.1px;margin-top:-16.5px" width="48" height="36" viewBox="-24 -18 48 36"><path fill="#fff" d="M-22 0C-18.5 -9 -10 -15 0 -15S18.5 -9 22 0C18.5 9 10 15 0 15S-18.5 9 -22 0Z"/><circle r="6.75" fill="none" stroke="#ff6f61" stroke-width="4.2"/></svg></div>
<div class="c g" style="left:1130px;top:645px;width:96px;height:80px"><svg class="ci" style="left:50%;top:50%;margin-top:-23.5px;margin-left:calc(-21.6px + .5px)" width="43.2" height="43.2" viewBox="0 0 24 24"><path fill="#fff" d="M9 16.17L4.83 12l-1.42 1.41L9 19 21 7l-1.41-1.41z"/></svg></div>
<div class="c x" style="left:1227px;top:645px;width:96px;height:80px"></div>
<div class="c g" style="left:64px;top:726px;width:96px;height:80px"><svg class="ci" style="left:50%;top:50%;margin-top:-23.5px;margin-left:calc(-21.6px + .5px)" width="43.2" height="43.2" viewBox="0 0 24 24"><path fill="#fff" d="M9 16.17L4.83 12l-1.42 1.41L9 19 21 7l-1.41-1.41z"/></svg></div>
<div class="c g" style="left:161px;top:726px;width:96px;height:80px"><svg class="ci" style="left:50%;top:50%;margin-top:-23.5px;margin-left:calc(-21.6px + .5px)" width="43.2" height="43.2" viewBox="0 0 24 24"><path fill="#fff" d="M9 16.17L4.83 12l-1.42 1.41L9 19 21 7l-1.41-1.41z"/></svg></div>
<div class="c p" style="left:258px;top:726px;width:96px;height:80px"><svg class="ci" style="left:50%;top:50%;margin-top:-23.900000000000002px;margin-left:calc(-21.6px + .5px)" width="43.2" height="43.2" viewBox="0 0 24 24"><path fill="#fff" d="M12 12c2.21 0 4-1.79 4-4s-1.79-4-4-4-4 1.79-4 4 1.79 4 4 4zm0 2c-2.67 0-8 1.34-8 4v2h16v-2c0-2.66-5.33-4-8-4z"/></svg></div>
<div class="c p" style="left:355px;top:726px;width:96px;height:80px"><svg class="ci" style="left:50%;top:50%;margin-top:-23.900000000000002px;margin-left:calc(-21.6px + .5px)" width="43.2" height="43.2" viewBox="0 0 24 24"><path fill="#fff" d="M12 12c2.21 0 4-1.79 4-4s-1.79-4-4-4-4 1.79-4 4 1.79 4 4 4zm0 2c-2.67 0-8 1.34-8 4v2h16v-2c0-2.66-5.33-4-8-4z"/></svg></div>
<div class="c g" style="left:452px;top:726px;width:96px;height:80px"><svg class="ci" style="left:50%;top:50%;margin-top:-23.5px;margin-left:calc(-21.6px + .5px)" width="43.2" height="43.2" viewBox="0 0 24 24"><path fill="#fff" d="M9 16.17L4.83 12l-1.42 1.41L9 19 21 7l-1.41-1.41z"/></svg></div>
<div class="c x" style="left:549px;top:726px;width:96px;height:80px"></div>
<div class="c x" style="left:646px;top:726px;width:95px;height:80px"></div>
<div class="c g" style="left:742px;top:726px;width:96px;height:80px"><svg class="ci" style="left:50%;top:50%;margin-top:-23.5px;margin-left:calc(-21.6px + .5px)" width="43.2" height="43.2" viewBox="0 0 24 24"><path fill="#fff" d="M9 16.17L4.83 12l-1.42 1.41L9 19 21 7l-1.41-1.41z"/></svg></div>
<div class="c e" style="left:839px;top:726px;width:96px;height:80px"><svg class="ci" style="left:50%;top:50%;margin-left:-24.1px;margin-top:-16.5px" width="48" height="36" viewBox="-24 -18 48 36"><path fill="#fff" d="M-22 0C-18.5 -9 -10 -15 0 -15S18.5 -9 22 0C18.5 9 10 15 0 15S-18.5 9 -22 0Z"/><circle r="6.75" fill="none" stroke="#ff6f61" stroke-width="4.2"/></svg></div>
<div class="c e" style="left:936px;top:726px;width:96px;height:80px"><svg class="ci" style="left:50%;top:50%;margin-left:-24.1px;margin-top:-16.5px" width="48" height="36" viewBox="-24 -18 48 36"><path fill="#fff" d="M-22 0C-18.5 -9 -10 -15 0 -15S18.5 -9 22 0C18.5 9 10 15 0 15S-18.5 9 -22 0Z"/><circle r="6.75" fill="none" stroke="#ff6f61" stroke-width="4.2"/></svg></div>
<div class="c e" style="left:1033px;top:726px;width:96px;height:80px"><svg class="ci" style="left:50%;top:50%;margin-left:-24.1px;margin-top:-16.5px" width="48" height="36" viewBox="-24 -18 48 36"><path fill="#fff" d="M-22 0C-18.5 -9 -10 -15 0 -15S18.5 -9 22 0C18.5 9 10 15 0 15S-18.5 9 -22 0Z"/><circle r="6.75" fill="none" stroke="#ff6f61" stroke-width="4.2"/></svg></div>
<div class="c g" style="left:1130px;top:726px;width:96px;height:80px"><svg class="ci" style="left:50%;top:50%;margin-top:-23.5px;margin-left:calc(-21.6px + .5px)" width="43.2" height="43.2" viewBox="0 0 24 24"><path fill="#fff" d="M9 16.17L4.83 12l-1.42 1.41L9 19 21 7l-1.41-1.41z"/></svg></div>
<div class="c x" style="left:1227px;top:726px;width:96px;height:80px"></div>
<div class="c g" style="left:64px;top:807px;width:96px;height:79px"><svg class="ci" style="left:50%;top:50%;margin-top:-23.5px;margin-left:calc(-21.6px + .5px)" width="43.2" height="43.2" viewBox="0 0 24 24"><path fill="#fff" d="M9 16.17L4.83 12l-1.42 1.41L9 19 21 7l-1.41-1.41z"/></svg></div>
<div class="c g" style="left:161px;top:807px;width:96px;height:79px"><svg class="ci" style="left:50%;top:50%;margin-top:-23.5px;margin-left:calc(-21.6px + .5px)" width="43.2" height="43.2" viewBox="0 0 24 24"><path fill="#fff" d="M9 16.17L4.83 12l-1.42 1.41L9 19 21 7l-1.41-1.41z"/></svg></div>
<div class="c p" style="left:258px;top:807px;width:96px;height:79px"><svg class="ci" style="left:50%;top:50%;margin-top:-23.900000000000002px;margin-left:calc(-21.6px + .5px)" width="43.2" height="43.2" viewBox="0 0 24 24"><path fill="#fff" d="M12 12c2.21 0 4-1.79 4-4s-1.79-4-4-4-4 1.79-4 4 1.79 4 4 4zm0 2c-2.67 0-8 1.34-8 4v2h16v-2c0-2.66-5.33-4-8-4z"/></svg></div>
<div class="c p" style="left:355px;top:807px;width:96px;height:79px"><svg class="ci" style="left:50%;top:50%;margin-top:-23.900000000000002px;margin-left:calc(-21.6px + .5px)" width="43.2" height="43.2" viewBox="0 0 24 24"><path fill="#fff" d="M12 12c2.21 0 4-1.79 4-4s-1.79-4-4-4-4 1.79-4 4 1.79 4 4 4zm0 2c-2.67 0-8 1.34-8 4v2h16v-2c0-2.66-5.33-4-8-4z"/></svg></div>
<div class="c g" style="left:452px;top:807px;width:96px;height:79px"><svg class="ci" style="left:50%;top:50%;margin-top:-23.5px;margin-left:calc(-21.6px + .5px)" width="43.2" height="43.2" viewBox="0 0 24 24"><path fill="#fff" d="M9 16.17L4.83 12l-1.42 1.41L9 19 21 7l-1.41-1.41z"/></svg></div>
<div class="c x" style="left:549px;top:807px;width:96px;height:79px"></div>
<div class="c x" style="left:646px;top:807px;width:95px;height:79px"></div>
<div class="c g" style="left:742px;top:807px;width:96px;height:79px"><svg class="ci" style="left:50%;top:50%;margin-top:-23.5px;margin-left:calc(-21.6px + .5px)" width="43.2" height="43.2" viewBox="0 0 24 24"><path fill="#fff" d="M9 16.17L4.83 12l-1.42 1.41L9 19 21 7l-1.41-1.41z"/></svg></div>
<div class="c e" style="left:839px;top:807px;width:96px;height:79px"><svg class="ci" style="left:50%;top:50%;margin-left:-24.1px;margin-top:-16.5px" width="48" height="36" viewBox="-24 -18 48 36"><path fill="#fff" d="M-22 0C-18.5 -9 -10 -15 0 -15S18.5 -9 22 0C18.5 9 10 15 0 15S-18.5 9 -22 0Z"/><circle r="6.75" fill="none" stroke="#ff6f61" stroke-width="4.2"/></svg></div>
<div class="c e" style="left:936px;top:807px;width:96px;height:79px"><svg class="ci" style="left:50%;top:50%;margin-left:-24.1px;margin-top:-16.5px" width="48" height="36" viewBox="-24 -18 48 36"><path fill="#fff" d="M-22 0C-18.5 -9 -10 -15 0 -15S18.5 -9 22 0C18.5 9 10 15 0 15S-18.5 9 -22 0Z"/><circle r="6.75" fill="none" stroke="#ff6f61" stroke-width="4.2"/></svg></div>
<div class="c e" style="left:1033px;top:807px;width:96px;height:79px"><svg class="ci" style="left:50%;top:50%;margin-left:-24.1px;margin-top:-16.5px" width="48" height="36" viewBox="-24 -18 48 36"><path fill="#fff" d="M-22 0C-18.5 -9 -10 -15 0 -15S18.5 -9 22 0C18.5 9 10 15 0 15S-18.5 9 -22 0Z"/><circle r="6.75" fill="none" stroke="#ff6f61" stroke-width="4.2"/></svg></div>
<div class="c g" style="left:1130px;top:807px;width:96px;height:79px"><svg class="ci" style="left:50%;top:50%;margin-top:-23.5px;margin-left:calc(-21.6px + .5px)" width="43.2" height="43.2" viewBox="0 0 24 24"><path fill="#fff" d="M9 16.17L4.83 12l-1.42 1.41L9 19 21 7l-1.41-1.41z"/></svg></div>
<div class="c x" style="left:1227px;top:807px;width:96px;height:79px"></div>
<div class="c g" style="left:64px;top:887px;width:96px;height:80px"><svg class="ci" style="left:50%;top:50%;margin-top:-23.5px;margin-left:calc(-21.6px + .5px)" width="43.2" height="43.2" viewBox="0 0 24 24"><path fill="#fff" d="M9 16.17L4.83 12l-1.42 1.41L9 19 21 7l-1.41-1.41z"/></svg></div>
<div class="c g" style="left:161px;top:887px;width:96px;height:80px"><svg class="ci" style="left:50%;top:50%;margin-top:-23.5px;margin-left:calc(-21.6px + .5px)" width="43.2" height="43.2" viewBox="0 0 24 24"><path fill="#fff" d="M9 16.17L4.83 12l-1.42 1.41L9 19 21 7l-1.41-1.41z"/></svg></div>
<div class="c p" style="left:258px;top:887px;width:96px;height:80px"><svg class="ci" style="left:50%;top:50%;margin-top:-23.900000000000002px;margin-left:calc(-21.6px + .5px)" width="43.2" height="43.2" viewBox="0 0 24 24"><path fill="#fff" d="M12 12c2.21 0 4-1.79 4-4s-1.79-4-4-4-4 1.79-4 4 1.79 4 4 4zm0 2c-2.67 0-8 1.34-8 4v2h16v-2c0-2.66-5.33-4-8-4z"/></svg></div>
<div class="c p" style="left:355px;top:887px;width:96px;height:80px"><svg class="ci" style="left:50%;top:50%;margin-top:-23.900000000000002px;margin-left:calc(-21.6px + .5px)" width="43.2" height="43.2" viewBox="0 0 24 24"><path fill="#fff" d="M12 12c2.21 0 4-1.79 4-4s-1.79-4-4-4-4 1.79-4 4 1.79 4 4 4zm0 2c-2.67 0-8 1.34-8 4v2h16v-2c0-2.66-5.33-4-8-4z"/></svg></div>
<div class="c g" style="left:452px;top:887px;width:96px;height:80px"><svg class="ci" style="left:50%;top:50%;margin-top:-23.5px;margin-left:calc(-21.6px + .5px)" width="43.2" height="43.2" viewBox="0 0 24 24"><path fill="#fff" d="M9 16.17L4.83 12l-1.42 1.41L9 19 21 7l-1.41-1.41z"/></svg></div>
<div class="c x" style="left:549px;top:887px;width:96px;height:80px"></div>
<div class="c x" style="left:646px;top:887px;width:95px;height:80px"></div>
<div class="c g" style="left:742px;top:887px;width:96px;height:80px"><svg class="ci" style="left:50%;top:50%;margin-top:-23.5px;margin-left:calc(-21.6px + .5px)" width="43.2" height="43.2" viewBox="0 0 24 24"><path fill="#fff" d="M9 16.17L4.83 12l-1.42 1.41L9 19 21 7l-1.41-1.41z"/></svg></div>
<div class="c e" style="left:839px;top:887px;width:96px;height:80px"><svg class="ci" style="left:50%;top:50%;margin-left:-24.1px;margin-top:-16.5px" width="48" height="36" viewBox="-24 -18 48 36"><path fill="#fff" d="M-22 0C-18.5 -9 -10 -15 0 -15S18.5 -9 22 0C18.5 9 10 15 0 15S-18.5 9 -22 0Z"/><circle r="6.75" fill="none" stroke="#ff6f61" stroke-width="4.2"/></svg></div>
<div class="c e" style="left:936px;top:887px;width:96px;height:80px"><svg class="ci" style="left:50%;top:50%;margin-left:-24.1px;margin-top:-16.5px" width="48" height="36" viewBox="-24 -18 48 36"><path fill="#fff" d="M-22 0C-18.5 -9 -10 -15 0 -15S18.5 -9 22 0C18.5 9 10 15 0 15S-18.5 9 -22 0Z"/><circle r="6.75" fill="none" stroke="#ff6f61" stroke-width="4.2"/></svg></div>
<div class="c e" style="left:1033px;top:887px;width:96px;height:80px"><svg class="ci" style="left:50%;top:50%;margin-left:-24.1px;margin-top:-16.5px" width="48" height="36" viewBox="-24 -18 48 36"><path fill="#fff" d="M-22 0C-18.5 -9 -10 -15 0 -15S18.5 -9 22 0C18.5 9 10 15 0 15S-18.5 9 -22 0Z"/><circle r="6.75" fill="none" stroke="#ff6f61" stroke-width="4.2"/></svg></div>
<div class="c g" style="left:1130px;top:887px;width:96px;height:80px"><svg class="ci" style="left:50%;top:50%;margin-top:-23.5px;margin-left:calc(-21.6px + .5px)" width="43.2" height="43.2" viewBox="0 0 24 24"><path fill="#fff" d="M9 16.17L4.83 12l-1.42 1.41L9 19 21 7l-1.41-1.41z"/></svg></div>
<div class="c x" style="left:1227px;top:887px;width:96px;height:80px"></div>
<div class="c x" style="left:64px;top:968px;width:96px;height:80px"></div>
<div class="c x" style="left:161px;top:968px;width:96px;height:80px"></div>
<div class="c x" style="left:258px;top:968px;width:96px;height:80px"></div>
<div class="c x" style="left:355px;top:968px;width:96px;height:80px"></div>
<div class="c x" style="left:452px;top:968px;width:96px;height:80px"></div>
<div class="c x" style="left:549px;top:968px;width:96px;height:80px"></div>
<div class="c x" style="left:646px;top:968px;width:95px;height:80px"></div>
<div class="c x" style="left:742px;top:968px;width:96px;height:80px"></div>
<div class="c x" style="left:839px;top:968px;width:96px;height:80px"></div>
<div class="c x" style="left:936px;top:968px;width:96px;height:80px"></div>
<div class="c x" style="left:1033px;top:968px;width:96px;height:80px"></div>
<div class="c x" style="left:1130px;top:968px;width:96px;height:80px"></div>
<div class="c x" style="left:1227px;top:968px;width:96px;height:80px"></div>
<div class="c x" style="left:64px;top:1049px;width:96px;height:79px"></div>
<div class="c x" style="left:161px;top:1049px;width:96px;height:79px"></div>
<div class="c x" style="left:258px;top:1049px;width:96px;height:79px"></div>
<div class="c x" style="left:355px;top:1049px;width:96px;height:79px"></div>
<div class="c x" style="left:452px;top:1049px;width:96px;height:79px"></div>
<div class="c x" style="left:549px;top:1049px;width:96px;height:79px"></div>
<div class="c x" style="left:646px;top:1049px;width:95px;height:79px"></div>
<div class="c x" style="left:742px;top:1049px;width:96px;height:79px"></div>
<div class="c x" style="left:839px;top:1049px;width:96px;height:79px"></div>
<div class="c x" style="left:936px;top:1049px;width:96px;height:79px"></div>
<div class="c x" style="left:1033px;top:1049px;width:96px;height:79px"></div>
<div class="c x" style="left:1130px;top:1049px;width:96px;height:79px"></div>
<div class="c x" style="left:1227px;top:1049px;width:96px;height:79px"></div>
</div>
<div class="btn" style="left:815px;top:1509px;width:202px;height:70px;background:#e5e3df"></div>
<div style="position:absolute;left:855.3px;top:1542.6px;width:17.4px;height:3px;border-radius:1.5px;background:#1a1a1a"></div>
<div class="btn" style="left:2718px;top:1509px;width:274.5px;height:70.5px;background:#00b37a"></div>
<svg class="ic" style="left:2746px;top:1533px" width="27" height="24" viewBox="0 0 27 24"><path d="M3 12.2L9.2 18.3 23.2 4.3" stroke="#fff" stroke-width="2.6" fill="none"/></svg>
<span class="t" style="left:79.45px;top:34.39px;font-size:31.2px;letter-spacing:0.853px;color:#1a1a1a;-webkit-text-stroke:0.9px #1a1a1a">New Semester - Fall 2023-2024 Midterm</span>
<span class="t" style="left:51.90px;top:117.22px;font-size:21.6px;letter-spacing:0.010px;color:#666463;-webkit-text-stroke:0.8px #666463">Exam Dates</span>
<span class="t" style="left:219.60px;top:117.22px;font-size:21.6px;letter-spacing:0.101px;color:#666463;-webkit-text-stroke:0.8px #666463">Classrooms</span>
<span class="t" style="left:383.40px;top:117.22px;font-size:21.6px;color:#666463;transform:scaleX(0.9924);-webkit-text-stroke:0.8px #666463">Courses</span>
<span class="t" style="left:511.60px;top:117.22px;font-size:21.6px;letter-spacing:0.880px;color:#1f1f1f;-webkit-text-stroke:0.8px #1f1f1f">Instructors</span>
<span class="t" style="left:670.70px;top:117.22px;font-size:21.6px;letter-spacing:0.459px;color:#666463;-webkit-text-stroke:0.8px #666463">My Exam Hours and Classrooms</span>
<span class="t" style="left:1048.00px;top:117.22px;font-size:21.6px;letter-spacing:0.456px;color:#666463;-webkit-text-stroke:0.8px #666463">Student Lectures</span>
<span class="t" style="left:1267.00px;top:117.22px;font-size:21.6px;letter-spacing:0.533px;color:#666463;-webkit-text-stroke:0.8px #666463">Distribute Exams</span>
<span class="t" style="left:129.60px;top:234.69px;font-size:20.8px;letter-spacing:0.182px;color:#fff">Download</span>
<span class="t" style="left:184.90px;top:289.92px;font-size:21.6px;letter-spacing:1.139px;color:#666463;-webkit-text-stroke:0.8px #666463">Action</span>
<span class="t" style="left:513.91px;top:289.92px;font-size:21.6px;color:#1f1f1f;transform:scaleX(0.9888);-webkit-text-stroke:0.8px #1f1f1f">Results</span>
<span class="t" style="left:97.00px;top:377.68px;font-size:24.6px;letter-spacing:0.205px;color:#262626">Select All</span>
<span class="t" style="left:668.81px;top:385.06px;font-size:20.6px;color:#1f1f1f;transform:scaleX(0.9910)">Filter</span>
<span class="t" style="left:838.90px;top:234.92px;font-size:21.6px;letter-spacing:0.724px;color:#1f1f1f;-webkit-text-stroke:0.8px #1f1f1f">Hours</span>
<span class="t" style="left:948.40px;top:234.92px;font-size:21.6px;letter-spacing:0.956px;color:#666463;-webkit-text-stroke:0.8px #666463">Invigilatings</span>
<span class="t" style="left:873.70px;top:322.58px;font-size:24.6px;letter-spacing:0.664px;color:#262626">Avaliable for both</span>
<span class="t" style="left:1145.61px;top:322.58px;font-size:24.6px;color:#262626;transform:scaleX(0.9888)">Own Exams</span>
<span class="t" style="left:1346.80px;top:322.58px;font-size:24.6px;letter-spacing:0.749px;color:#262626">Invigilatings</span>
<span class="t" style="left:902.77px;top:386.27px;font-size:18.7px;color:#1f1f1f;transform:scaleX(0.9955);-webkit-text-stroke:0.95px #1f1f1f">6 Dec</span>
<span class="t" style="left:906.62px;top:415.07px;font-size:18.7px;letter-spacing:1.795px;color:#1f1f1f;-webkit-text-stroke:0.95px #1f1f1f">Mon</span>
<span class="t" style="left:999.77px;top:386.27px;font-size:18.7px;color:#1f1f1f;transform:scaleX(0.9955);-webkit-text-stroke:0.95px #1f1f1f">7 Dec</span>
<span class="t" style="left:1009.20px;top:415.07px;font-size:18.7px;color:#1f1f1f;transform:scaleX(0.9450);-webkit-text-stroke:0.95px #1f1f1f">Tue</span>
<span class="t" style="left:1096.77px;top:386.27px;font-size:18.7px;color:#1f1f1f;transform:scaleX(0.9955);-webkit-text-stroke:0.95px #1f1f1f">8 Dec</span>
<span class="t" style="left:1101.42px;top:415.07px;font-size:18.7px;letter-spacing:0.628px;color:#1f1f1f;-webkit-text-stroke:0.95px #1f1f1f">Wed</span>
<span class="t" style="left:1193.77px;top:386.27px;font-size:18.7px;color:#1f1f1f;transform:scaleX(0.9955);-webkit-text-stroke:0.95px #1f1f1f">9 Dec</span>
<span class="t" style="left:1202.27px;top:415.07px;font-size:18.7px;color:#1f1f1f;transform:scaleX(0.9830);-webkit-text-stroke:0.95px #1f1f1f">Thu</span>
<span class="t" style="left:1285.89px;top:386.27px;font-size:18.7px;color:#1f1f1f;transform:scaleX(0.9691);-webkit-text-stroke:0.95px #1f1f1f">10 Dec</span>
<span class="t" style="left:1303.78px;top:415.07px;font-size:18.7px;letter-spacing:0.306px;color:#1f1f1f;-webkit-text-stroke:0.95px #1f1f1f">Fri</span>
<span class="t" style="left:1384.61px;top:386.27px;font-size:18.7px;color:#1f1f1f;transform:scaleX(0.9333);-webkit-text-stroke:0.95px #1f1f1f">11 Dec</span>
<span class="t" style="left:1398.83px;top:415.07px;font-size:18.7px;color:#1f1f1f;transform:scaleX(0.9058);-webkit-text-stroke:0.95px #1f1f1f">Sat</span>
<span class="t" style="left:1479.39px;top:386.27px;font-size:18.7px;color:#1f1f1f;transform:scaleX(0.9691);-webkit-text-stroke:0.95px #1f1f1f">12 Dec</span>
<span class="t" style="left:1492.56px;top:415.07px;font-size:18.7px;color:#1f1f1f;transform:scaleX(0.9643);-webkit-text-stroke:0.95px #1f1f1f">Sun</span>
<span class="t" style="left:1575.89px;top:386.27px;font-size:18.7px;color:#1f1f1f;transform:scaleX(0.9691);-webkit-text-stroke:0.95px #1f1f1f">13 Dec</span>
<span class="t" style="left:1584.62px;top:415.07px;font-size:18.7px;letter-spacing:1.795px;color:#1f1f1f;-webkit-text-stroke:0.95px #1f1f1f">Mon</span>
<span class="t" style="left:1672.89px;top:386.27px;font-size:18.7px;color:#1f1f1f;transform:scaleX(0.9691);-webkit-text-stroke:0.95px #1f1f1f">14 Dec</span>
<span class="t" style="left:1687.20px;top:415.07px;font-size:18.7px;color:#1f1f1f;transform:scaleX(0.9450);-webkit-text-stroke:0.95px #1f1f1f">Tue</span>
<span class="t" style="left:1769.89px;top:386.27px;font-size:18.7px;color:#1f1f1f;transform:scaleX(0.9691);-webkit-text-stroke:0.95px #1f1f1f">15 Dec</span>
<span class="t" style="left:1779.42px;top:415.07px;font-size:18.7px;letter-spacing:0.628px;color:#1f1f1f;-webkit-text-stroke:0.95px #1f1f1f">Wed</span>
<span class="t" style="left:1866.89px;top:386.27px;font-size:18.7px;color:#1f1f1f;transform:scaleX(0.9691);-webkit-text-stroke:0.95px #1f1f1f">16 Dec</span>
<span class="t" style="left:1880.27px;top:415.07px;font-size:18.7px;color:#1f1f1f;transform:scaleX(0.9830);-webkit-text-stroke:0.95px #1f1f1f">Thu</span>
<span class="t" style="left:1963.89px;top:386.27px;font-size:18.7px;color:#1f1f1f;transform:scaleX(0.9691);-webkit-text-stroke:0.95px #1f1f1f">17 Dec</span>
<span class="t" style="left:1981.78px;top:415.07px;font-size:18.7px;letter-spacing:0.306px;color:#1f1f1f;-webkit-text-stroke:0.95px #1f1f1f">Fri</span>
<span class="t" style="left:2060.89px;top:386.27px;font-size:18.7px;color:#1f1f1f;transform:scaleX(0.9691);-webkit-text-stroke:0.95px #1f1f1f">18 Dec</span>
<span class="t" style="left:2076.83px;top:415.07px;font-size:18.7px;color:#1f1f1f;transform:scaleX(0.9058);-webkit-text-stroke:0.95px #1f1f1f">Sat</span>
<span class="t" style="left:822.71px;top:478.95px;font-size:19.2px;color:#1f1f1f;transform:scaleX(0.9711);-webkit-text-stroke:0.95px #1f1f1f">09:00</span>
<span class="t" style="left:823.42px;top:559.95px;font-size:19.2px;color:#1f1f1f;transform:scaleX(0.9219);-webkit-text-stroke:0.95px #1f1f1f">10:00</span>
<span class="t" style="left:825.09px;top:640.45px;font-size:19.2px;color:#1f1f1f;transform:scaleX(0.8786);-webkit-text-stroke:0.95px #1f1f1f">11:00</span>
<span class="t" style="left:823.42px;top:720.95px;font-size:19.2px;color:#1f1f1f;transform:scaleX(0.9219);-webkit-text-stroke:0.95px #1f1f1f">12:00</span>
<span class="t" style="left:823.42px;top:801.95px;font-size:19.2px;color:#1f1f1f;transform:scaleX(0.9219);-webkit-text-stroke:0.95px #1f1f1f">13:00</span>
<span class="t" style="left:823.42px;top:882.45px;font-size:19.2px;color:#1f1f1f;transform:scaleX(0.9219);-webkit-text-stroke:0.95px #1f1f1f">14:00</span>
<span class="t" style="left:823.42px;top:962.95px;font-size:19.2px;color:#1f1f1f;transform:scaleX(0.9219);-webkit-text-stroke:0.95px #1f1f1f">15:00</span>
<span class="t" style="left:823.42px;top:1043.95px;font-size:19.2px;color:#1f1f1f;transform:scaleX(0.9219);-webkit-text-stroke:0.95px #1f1f1f">16:00</span>
<span class="t" style="left:823.42px;top:1124.95px;font-size:19.2px;color:#1f1f1f;transform:scaleX(0.9219);-webkit-text-stroke:0.95px #1f1f1f">17:00</span>
<span class="t" style="left:823.42px;top:1205.45px;font-size:19.2px;color:#1f1f1f;transform:scaleX(0.9219);-webkit-text-stroke:0.95px #1f1f1f">18:00</span>
<span class="t" style="left:823.42px;top:1285.95px;font-size:19.2px;color:#1f1f1f;transform:scaleX(0.9219);-webkit-text-stroke:0.95px #1f1f1f">19:00</span>
<span class="t" style="left:822.71px;top:1366.95px;font-size:19.2px;color:#1f1f1f;transform:scaleX(0.9711);-webkit-text-stroke:0.95px #1f1f1f">20:00</span>
<span class="t" style="left:824.33px;top:1447.45px;font-size:19.2px;color:#1f1f1f;transform:scaleX(0.9028);-webkit-text-stroke:0.95px #1f1f1f">21:00</span>
<span class="t" style="left:890.50px;top:1533.82px;font-size:23.6px;color:#1f1f1f;transform:scaleX(0.9980)">Collapse</span>
<span class="t" style="left:2785.00px;top:1534.52px;font-size:23.6px;color:#fff;transform:scaleX(0.9999)">Save and Update</span>
</body></html>
